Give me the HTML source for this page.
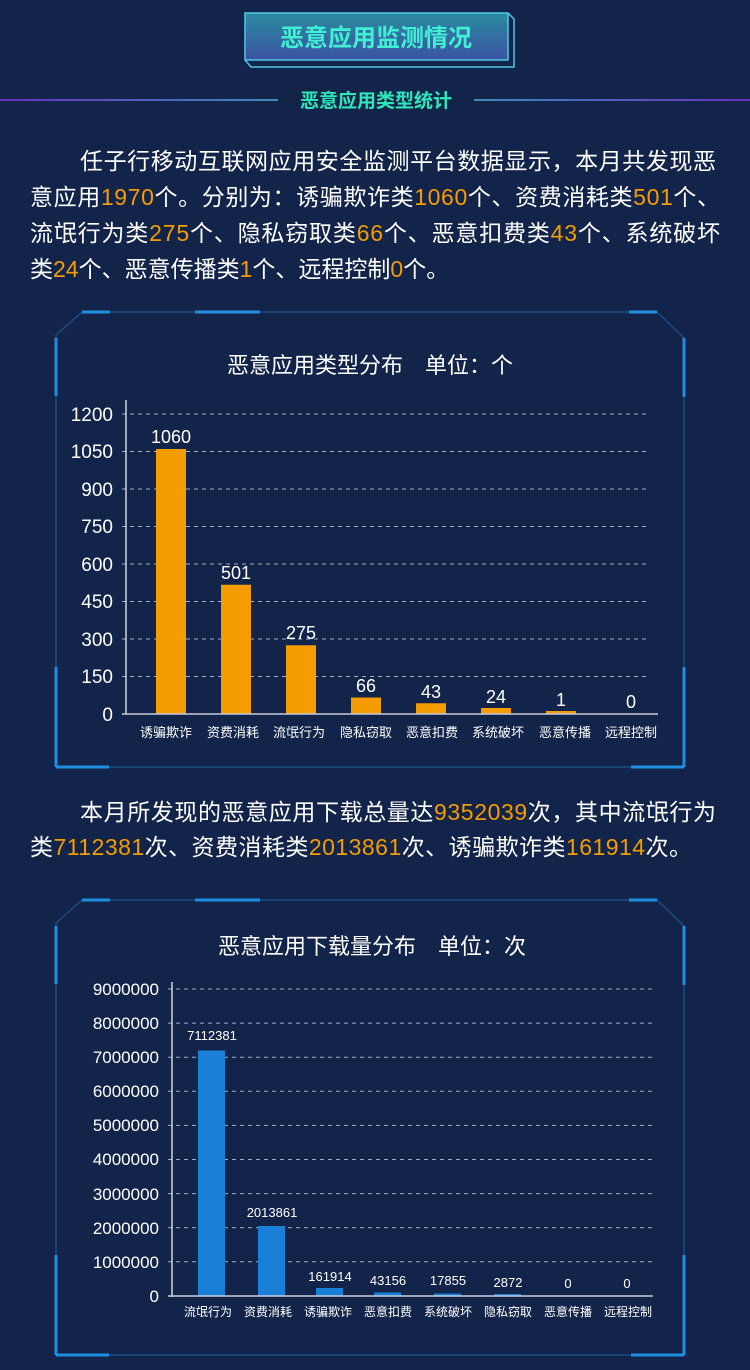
<!DOCTYPE html>
<html><head><meta charset="utf-8"><style>
html,body{margin:0;padding:0;background:#13244a;}
svg{display:block;}
text{font-family:"Liberation Sans","Noto Sans CJK SC",sans-serif;}
</style></head><body>
<svg width="750" height="1370" viewBox="0 0 750 1370" xmlns="http://www.w3.org/2000/svg">
<defs>
<linearGradient id="hb" x1="0" y1="0" x2="0" y2="1"><stop offset="0" stop-color="#2a8ca2"/><stop offset="1" stop-color="#3c52a0"/></linearGradient>
<linearGradient id="ll" x1="0" y1="0" x2="1" y2="0"><stop offset="0" stop-color="#6a2fc0"/><stop offset="1" stop-color="#3a8ab8"/></linearGradient>
<linearGradient id="lr" x1="1" y1="0" x2="0" y2="0"><stop offset="0" stop-color="#6a2fc0"/><stop offset="1" stop-color="#3a8ab8"/></linearGradient>
<g id="frame">
<path d="M56 335 L82 312 L657 312 L684 338 L684 767 L56 767 Z" fill="none" stroke="#1c4c80" stroke-width="1.5"/>
<g stroke="#1f8ee0" stroke-width="3">
<line x1="82" y1="312" x2="110" y2="312"/><line x1="195" y1="312" x2="260" y2="312"/>
<line x1="629" y1="312" x2="657" y2="312"/>
<line x1="56" y1="338" x2="56" y2="396"/>
<line x1="684" y1="338" x2="684" y2="397"/>
<line x1="56" y1="667" x2="56" y2="767"/><line x1="56" y1="767" x2="109" y2="767"/>
<line x1="684" y1="667" x2="684" y2="767"/><line x1="631" y1="767" x2="684" y2="767"/>
</g></g>
</defs>
<rect width="750" height="1370" fill="#13244a"/>
<!-- header -->
<path d="M508 13 L514 19 L514 67 L251 67 L245 60" fill="none" stroke="#4cc8e8" stroke-width="1.5"/>
<rect x="245" y="13" width="263" height="47" fill="url(#hb)" stroke="#4cc8e8" stroke-width="1.5"/>
<text x="376" y="46" text-anchor="middle" font-size="24" font-weight="bold" fill="#3ff0d2">恶意应用监测情况</text>
<rect x="0" y="99" width="278" height="2" fill="url(#ll)"/>
<rect x="474" y="99" width="276" height="2" fill="url(#lr)"/>
<text x="376" y="107" text-anchor="middle" font-size="19" font-weight="bold" fill="#2ee6b8">恶意应用类型统计</text>
<!-- paragraph 1 -->
<g font-size="23" fill="#fff">
<text x="80" y="169" textLength="636">任子行移动互联网应用安全监测平台数据显示，本月共发现恶</text>
<text x="30" y="205" textLength="690">意应用<tspan fill="#f59c00">1970</tspan>个。分别为：诱骗欺诈类<tspan fill="#f59c00">1060</tspan>个、资费消耗类<tspan fill="#f59c00">501</tspan>个、</text>
<text x="30" y="241" textLength="690">流氓行为类<tspan fill="#f59c00">275</tspan>个、隐私窃取类<tspan fill="#f59c00">66</tspan>个、恶意扣费类<tspan fill="#f59c00">43</tspan>个、系统破坏</text>
<text x="30" y="277">类<tspan fill="#f59c00">24</tspan>个、恶意传播类<tspan fill="#f59c00">1</tspan>个、远程控制<tspan fill="#f59c00">0</tspan>个。</text>
</g>
<!-- chart 1 -->
<use href="#frame"/>
<text x="370" y="373" text-anchor="middle" font-size="22" fill="#fff">恶意应用类型分布　单位：个</text>
<g stroke="#a0aec6" stroke-width="1" stroke-dasharray="4,4">
<line x1="122" y1="414" x2="648" y2="414"/><line x1="122" y1="451.5" x2="648" y2="451.5"/>
<line x1="122" y1="489" x2="648" y2="489"/><line x1="122" y1="526.5" x2="648" y2="526.5"/>
<line x1="122" y1="564" x2="648" y2="564"/><line x1="122" y1="601.5" x2="648" y2="601.5"/>
<line x1="122" y1="639" x2="648" y2="639"/><line x1="122" y1="676.5" x2="648" y2="676.5"/>
</g>
<g font-size="19" fill="#fff" text-anchor="end">
<text x="113" y="421">1200</text><text x="113" y="458">1050</text><text x="113" y="496">900</text>
<text x="113" y="533">750</text><text x="113" y="571">600</text><text x="113" y="608">450</text>
<text x="113" y="646">300</text><text x="113" y="683">150</text><text x="113" y="721">0</text>
</g>
<g fill="#f59c00">
<rect x="156" y="449" width="30" height="265"/><rect x="221" y="584.75" width="30" height="129.25"/>
<rect x="286" y="645.25" width="30" height="68.75"/><rect x="351" y="697.5" width="30" height="16.5"/>
<rect x="416" y="703.25" width="30" height="10.75"/><rect x="481" y="708" width="30" height="6"/>
<rect x="546" y="711" width="30" height="3"/>
</g>
<line x1="126" y1="400" x2="126" y2="714" stroke="#fff" stroke-width="1.2"/>
<line x1="122" y1="714" x2="658" y2="714" stroke="#c8ccd8" stroke-width="1.5"/>
<g font-size="18" fill="#fff" text-anchor="middle">
<text x="171" y="443">1060</text><text x="236" y="579">501</text><text x="301" y="639">275</text>
<text x="366" y="692">66</text><text x="431" y="698">43</text><text x="496" y="703">24</text>
<text x="561" y="706">1</text><text x="631" y="708">0</text>
</g>
<g font-size="13" fill="#fff" text-anchor="middle">
<text x="166" y="737">诱骗欺诈</text><text x="233" y="737">资费消耗</text><text x="299" y="737">流氓行为</text>
<text x="366" y="737">隐私窃取</text><text x="432" y="737">恶意扣费</text><text x="498" y="737">系统破坏</text>
<text x="565" y="737">恶意传播</text><text x="631" y="737">远程控制</text>
</g>
<!-- paragraph 2 -->
<g font-size="23" fill="#fff">
<text x="80" y="820" textLength="636">本月所发现的恶意应用下载总量达<tspan fill="#f59c00">9352039</tspan>次，其中流氓行为</text>
<text x="30" y="855" textLength="662">类<tspan fill="#f59c00">7112381</tspan>次、资费消耗类<tspan fill="#f59c00">2013861</tspan>次、诱骗欺诈类<tspan fill="#f59c00">161914</tspan>次。</text>
</g>
<!-- chart 2 -->
<use href="#frame" transform="translate(0,588)"/>
<text x="372" y="954" text-anchor="middle" font-size="22" fill="#fff">恶意应用下载量分布　单位：次</text>
<g stroke="#a0aec6" stroke-width="1" stroke-dasharray="4,4">
<line x1="168" y1="989" x2="652" y2="989"/><line x1="168" y1="1023.1" x2="652" y2="1023.1"/>
<line x1="168" y1="1057.2" x2="652" y2="1057.2"/><line x1="168" y1="1091.3" x2="652" y2="1091.3"/>
<line x1="168" y1="1125.4" x2="652" y2="1125.4"/><line x1="168" y1="1159.5" x2="652" y2="1159.5"/>
<line x1="168" y1="1193.6" x2="652" y2="1193.6"/><line x1="168" y1="1227.7" x2="652" y2="1227.7"/>
<line x1="168" y1="1261.8" x2="652" y2="1261.8"/>
</g>
<g font-size="17" fill="#fff" text-anchor="end">
<text x="159" y="995">9000000</text><text x="159" y="1029">8000000</text><text x="159" y="1063">7000000</text>
<text x="159" y="1097">6000000</text><text x="159" y="1131">5000000</text><text x="159" y="1165">4000000</text>
<text x="159" y="1200">3000000</text><text x="159" y="1234">2000000</text><text x="159" y="1268">1000000</text>
<text x="159" y="1302">0</text>
</g>
<g fill="#1a7fd6">
<rect x="198" y="1050.5" width="27" height="245.5"/><rect x="258" y="1226" width="27" height="70"/>
<rect x="316" y="1288" width="27" height="8"/><rect x="374" y="1292.5" width="27" height="3.5"/>
<rect x="434" y="1293.5" width="27" height="2.5"/><rect x="494" y="1294" width="27" height="2"/>
</g>
<line x1="172" y1="982" x2="172" y2="1297" stroke="#fff" stroke-width="1.2"/>
<line x1="168" y1="1296" x2="653" y2="1296" stroke="#c8ccd8" stroke-width="1.5"/>
<g font-size="13" fill="#fff" text-anchor="middle">
<text x="212" y="1040">7112381</text><text x="272" y="1217">2013861</text><text x="330" y="1281">161914</text>
<text x="388" y="1285">43156</text><text x="448" y="1285">17855</text><text x="508" y="1287">2872</text>
<text x="568" y="1288">0</text><text x="627" y="1288">0</text>
</g>
<g font-size="12" fill="#fff" text-anchor="middle">
<text x="208" y="1316">流氓行为</text><text x="268" y="1316">资费消耗</text><text x="328" y="1316">诱骗欺诈</text>
<text x="388" y="1316">恶意扣费</text><text x="448" y="1316">系统破坏</text><text x="508" y="1316">隐私窃取</text>
<text x="568" y="1316">恶意传播</text><text x="628" y="1316">远程控制</text>
</g>
</svg>
</body></html>
